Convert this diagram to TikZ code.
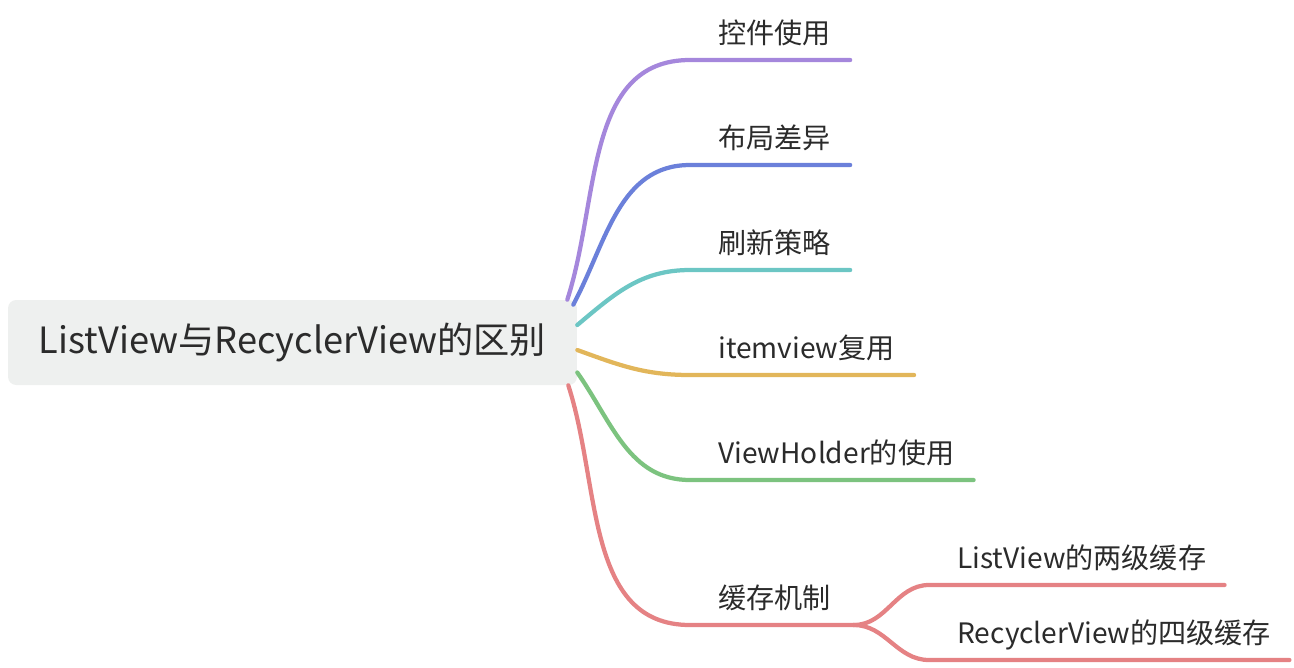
\documentclass[tikz,border=0pt]{standalone}
\usepackage{fontspec}
\setmainfont{Noto Sans CJK SC}
\definecolor{rootfill}{HTML}{EEF0EF}
\definecolor{textgray}{HTML}{2B2B2B}
\definecolor{bpurple}{HTML}{A587DC}
\definecolor{bblue}{HTML}{6B80DA}
\definecolor{bteal}{HTML}{6CC6C4}
\definecolor{byellow}{HTML}{E2B65A}
\definecolor{bgreen}{HTML}{7CC37F}
\definecolor{bred}{HTML}{E58284}
\begin{document}
\begin{tikzpicture}[
    x=0.02cm, y=-0.02cm,
    every node/.style={text=textgray},
    root/.style={fill=rootfill, rounded corners=0.16cm, minimum width=11.38cm,
      minimum height=1.7cm, font=\fontsize{20.6}{24}\selectfont},
    topic/.style={anchor=south west, inner sep=0pt, text depth=0.33cm,
      font=\fontsize{16}{19}\selectfont},
    branch/.style={line width=0.085cm, line cap=round}
  ]
  \useasboundingbox (0,0) rectangle (1294,667);
  \node[root] (root) at (292.5,342.5) {ListView与RecyclerView的区别};
  \node[topic] (kj) at (718,60) {控件使用};
  \node[topic] (bj) at (718,165) {布局差异};
  \node[topic] (sx) at (718,270) {刷新策略};
  \node[topic] (iv) at (718,375) {itemview复用};
  \node[topic] (vh) at (718,480) {ViewHolder的使用};
  \node[topic] (hc) at (718,625) {缓存机制};
  \node[topic] (lv) at (957,585) {ListView的两级缓存};
  \node[topic] (rv) at (957,660) {RecyclerView的四级缓存};
  \coordinate (fork) at ([xshift=0.45cm]hc.south east);
  \draw[branch, bpurple] ([xshift=-0.2cm]root.north east) to[out=72,in=180]
    ([xshift=-0.56cm]kj.south west) -- ([xshift=0.38cm]kj.south east);
  \draw[branch, bblue] ([xshift=-0.08cm,yshift=-0.1cm]root.north east) to[out=62,in=180]
    ([xshift=-0.56cm]bj.south west) -- ([xshift=0.38cm]bj.south east);
  \draw[branch, bteal] ([yshift=0.35cm]root.east) to[out=40,in=180]
    ([xshift=-0.56cm]sx.south west) -- ([xshift=0.38cm]sx.south east);
  \draw[branch, byellow] ([yshift=-0.15cm]root.east) to[out=-20,in=180]
    ([xshift=-0.56cm]iv.south west) -- ([xshift=0.38cm]iv.south east);
  \draw[branch, bgreen] ([yshift=-0.6cm]root.east) to[out=-55,in=180]
    ([xshift=-0.56cm]vh.south west) -- ([xshift=0.38cm]vh.south east);
  \draw[branch, bred] ([xshift=-0.18cm]root.south east) to[out=-72,in=180]
    ([xshift=-0.56cm]hc.south west) -- (fork);
  \draw[branch, bred] (fork) to[out=0,in=180]
    ([xshift=-0.56cm]lv.south west) -- ([xshift=0.36cm]lv.south east);
  \draw[branch, bred] (fork) to[out=0,in=180]
    ([xshift=-0.56cm]rv.south west) -- ([xshift=0.36cm]rv.south east);
\end{tikzpicture}
\end{document}
